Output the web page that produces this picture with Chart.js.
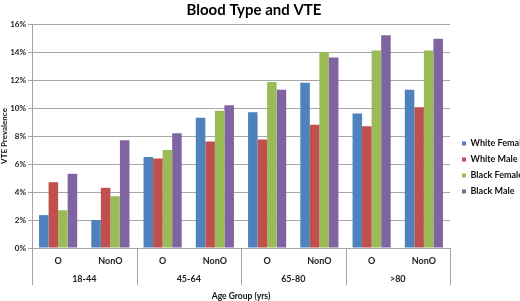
<!DOCTYPE html>
<html>
<head>
<meta charset="utf-8">
<script src="https://cdn.jsdelivr.net/npm/chart.js@4/dist/chart.umd.min.js"></script>
<style>
html,body{margin:0;padding:0;background:#fff;}
#wrap{width:520px;height:301px;position:relative;}
</style>
</head>
<body>
<div id="wrap"><canvas id="c" width="520" height="301"></canvas></div>
<script>
const subCategories = ["O","NonO","O","NonO","O","NonO","O","NonO"];
const ageGroups = ["18-44","45-64","65-80",">80"];
const seriesNames = ["White Female","White Male","Black Female","Black Male"];
const whiteFemale = [2.35, 2.0, 6.5, 9.3, 9.7, 11.8, 9.6, 11.3];
const whiteMale   = [4.7, 4.3, 6.4, 7.6, 7.75, 8.8, 8.7, 10.05];
const blackFemale = [2.7, 3.7, 7.0, 9.8, 11.85, 14.0, 14.1, 14.1];
const blackMale   = [5.3, 7.7, 8.2, 10.2, 11.3, 13.6, 15.2, 14.95];
const yTicks = [0,2,4,6,8,10,12,14,16];

const colors = ["#4F81BD","#C0504D","#9BBB59","#8064A2"];
const FONT = "Lato, 'Open Sans', sans-serif";
const GRID = "#a6a6a6";

const groupPlugin = {
  id: 'groupPlugin',
  afterLayout(chart) {
    const lg = chart.legend;
    if (lg) {
      const dx = 5, dy = 17;
      lg.left += dx; lg.right += dx; lg.top += dy; lg.bottom += dy;
    }
    const tb = chart.titleBlock;
    if (tb) { tb.left -= 6; tb.right -= 6; }
  },
  afterDraw(chart) {
    const x = chart.scales.x;
    const ctx = chart.ctx;
    const n = subCategories.length;
    const per = n / ageGroups.length;
    const catW = (x.right - x.left) / n;
    const top = chart.chartArea.bottom;
    ctx.save();
    ctx.strokeStyle = GRID;
    ctx.lineWidth = 1;
    for (let g = 0; g <= ageGroups.length; g++) {
      let px;
      if (g < ageGroups.length) px = x.getPixelForValue(g * per) - catW / 2;
      else px = x.getPixelForValue(n - 1) + catW / 2;
      px = Math.round(px) + 0.5;
      ctx.beginPath();
      ctx.moveTo(px, top);
      ctx.lineTo(px, top + 37);
      ctx.stroke();
    }
    ctx.fillStyle = "#222";
    ctx.font = "bold 9px " + FONT;
    ctx.textAlign = "center";
    ctx.textBaseline = "middle";
    ageGroups.forEach((g, i) => {
      const a = x.getPixelForValue(i * per);
      const b = x.getPixelForValue(i * per + per - 1);
      ctx.fillText(g, (a + b) / 2, top + 31);
    });
    ctx.restore();
  }
};

new Chart(document.getElementById('c'), {
  type: 'bar',
  data: {
    labels: subCategories,
    datasets: [
      {label: seriesNames[0], data: whiteFemale, backgroundColor: colors[0]},
      {label: seriesNames[1], data: whiteMale, backgroundColor: colors[1]},
      {label: seriesNames[2], data: blackFemale, backgroundColor: colors[2]},
      {label: seriesNames[3], data: blackMale, backgroundColor: colors[3]}
    ]
  },
  options: {
    responsive: false,
    animation: false,
    devicePixelRatio: 1,
    layout: {padding: {left: 0, right: 0, top: 0, bottom: 0}},
    datasets: {bar: {categoryPercentage: 0.73, barPercentage: 1.0}},
    plugins: {
      title: {
        display: true,
        text: "Blood Type and VTE",
        color: "#000",
        font: {family: FONT, size: 15, weight: 'bold', lineHeight: 1.2},
        padding: {top: 1, bottom: 5}
      },
      legend: {
        position: 'right',
        align: 'center',
        maxWidth: 70,
        labels: {
          boxWidth: 4, boxHeight: 4,
          padding: 7,
          color: "#111",
          font: {family: FONT, size: 9, weight: 'bold'}
        }
      },
      tooltip: {enabled: false}
    },
    scales: {
      x: {
        grid: {display: false, drawTicks: false, tickLength: 0},
        border: {display: true, color: GRID},
        ticks: {color: "#222", font: {family: FONT, size: 9, weight: 'bold'}, padding: 8, maxRotation: 0, autoSkip: false},
        title: {display: true, text: "Age Group (yrs)", color: "#111", font: {family: FONT, size: 8.5, weight: 'bold'}, padding: {top: 0, bottom: 0}},
        afterFit(s) { s.height = 53; }
      },
      y: {
        min: 0, max: 16,
        afterBuildTicks(s) { s.ticks = yTicks.map(v => ({value: v})); },
        grid: {color: GRID, tickLength: 4},
        border: {display: true, color: GRID},
        ticks: {color: "#222", font: {family: FONT, size: 8, weight: 'bold'}, padding: 2, callback: v => v + "%"},
        title: {display: true, text: "VTE Prevalence", color: "#111", font: {family: FONT, size: 8, weight: 'bold'}, padding: {top: 0, bottom: 0}},
        afterFit(s) { s.width = 32; }
      }
    }
  },
  plugins: [groupPlugin]
});
</script>
</body>
</html>
